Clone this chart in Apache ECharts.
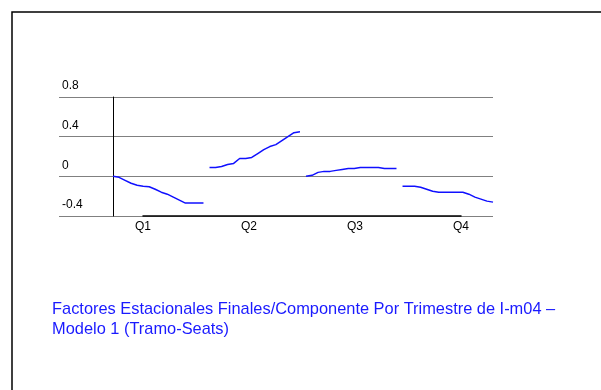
<!DOCTYPE html>
<html>
<head>
<meta charset="utf-8">
<script src="https://cdn.jsdelivr.net/npm/echarts@6/dist/echarts.min.js"></script>
<style>
	html, body { margin: 0; padding: 0; background: #fff; }
	#chart { width: 601px; height: 390px; }
</style>
</head>
<body>
<div id="chart"></div>
<script>
	// etiquetas de trimestre y de eje
	var quarters = ['Q1', 'Q2', 'Q3', 'Q4'];
	var yTicks = [-0.4, 0, 0.4, 0.8];

	// factores estacionales por trimestre (16 años cada uno)
	var q1 = [0, -0.01, -0.04, -0.07, -0.09, -0.10, -0.105, -0.13, -0.16, -0.18, -0.21, -0.24, -0.27, -0.27, -0.27, -0.27];
	var q2 = [0.09, 0.09, 0.10, 0.12, 0.13, 0.18, 0.18, 0.19, 0.23, 0.27, 0.30, 0.32, 0.36, 0.40, 0.44, 0.45];
	var q3 = [0.00, 0.01, 0.04, 0.05, 0.05, 0.06, 0.07, 0.08, 0.08, 0.09, 0.09, 0.09, 0.09, 0.08, 0.08, 0.08];
	var q4 = [-0.10, -0.10, -0.10, -0.11, -0.13, -0.15, -0.16, -0.16, -0.16, -0.16, -0.16, -0.18, -0.21, -0.23, -0.25, -0.26];

	var title = 'Factores Estacionales Finales/Componente Por Trimestre de I-m04 –\nModelo 1 (Tramo-Seats)';

	var groups = [q1, q2, q3, q4];
	var slots = [];
	groups.forEach(function(g, qi) {
		g.forEach(function(v, i) { slots.push(quarters[qi] + '-' + i); });
	});

	// cada trimestre es una serie aparte, el resto se deja vacío
	function pad(qi) {
		var out = [];
		groups.forEach(function(g, gi) {
			g.forEach(function(v) { out.push(gi === qi ? v : '-'); });
		});
		return out;
	}

	var font = '"Liberation Sans", Arial, sans-serif';
	var gridTop = 97, gridBottom = 174;

	var chart = echarts.init(document.getElementById('chart'));
	chart.setOption({
		animation: false,
		textStyle: { fontFamily: font },
		title: {
			text: title,
			left: 52,
			top: 299,
			padding: 0,
			textStyle: { color: '#1a1aff', fontSize: 16.4, fontWeight: 'normal', lineHeight: 20, fontFamily: font }
		},
		graphic: [{
			type: 'rect',
			shape: { x: 12, y: 12, width: 700, height: 500 },
			style: { fill: 'none', stroke: '#000', lineWidth: 1.5 }
		}],
		grid: [
			{ left: 113, right: 108, top: gridTop, bottom: gridBottom },//datos
			{ left: 59, right: 108, top: gridTop, bottom: gridBottom },//líneas de división
			{ left: 143, right: 140, top: gridTop, bottom: gridBottom }//etiquetas Q
		],
		xAxis: [{
			gridIndex: 0,
			type: 'category',
			boundaryGap: false,
			data: slots,
			show: false
		}, {
			gridIndex: 1,
			type: 'value',
			show: false
		}, {
			gridIndex: 2,
			type: 'category',
			boundaryGap: false,
			data: quarters,
			axisLine: { lineStyle: { color: '#000', width: 1.5 } },
			axisTick: { show: false },
			axisLabel: { color: '#000', fontSize: 12, margin: 5, fontFamily: font }
		}],
		yAxis: [{
			gridIndex: 0,
			type: 'value',
			min: yTicks[0],
			max: yTicks[yTicks.length - 1],
			interval: 0.4,
			axisLine: { show: true, lineStyle: { color: '#000', width: 1 } },
			axisTick: { show: false },
			axisLabel: { show: false },
			splitLine: { show: false }
		}, {
			gridIndex: 1,
			type: 'value',
			min: yTicks[0],
			max: yTicks[yTicks.length - 1],
			interval: 0.4,
			axisLine: { show: false },
			axisTick: { show: false },
			splitLine: { show: true, lineStyle: { color: '#808080', width: 1 } },
			axisLabel: {
				color: '#000',
				fontSize: 12,
				fontFamily: font,
				align: 'left',
				verticalAlign: 'bottom',
				margin: -3,
				padding: [0, 0, 5, 0],
				formatter: function(v) {
					return Math.abs(v) < 1e-9 ? '0' : String(Math.round(v * 10) / 10);
				}
			}
		}, {
			gridIndex: 2,
			type: 'value',
			show: false
		}],
		series: groups.map(function(g, qi) {
			return {
				name: quarters[qi],
				type: 'line',
				xAxisIndex: 0,
				yAxisIndex: 0,
				data: pad(qi),
				symbol: 'none',
				lineStyle: { color: '#1010ff', width: 1.5 }
			};
		})
	});
</script>
</body>
</html>
